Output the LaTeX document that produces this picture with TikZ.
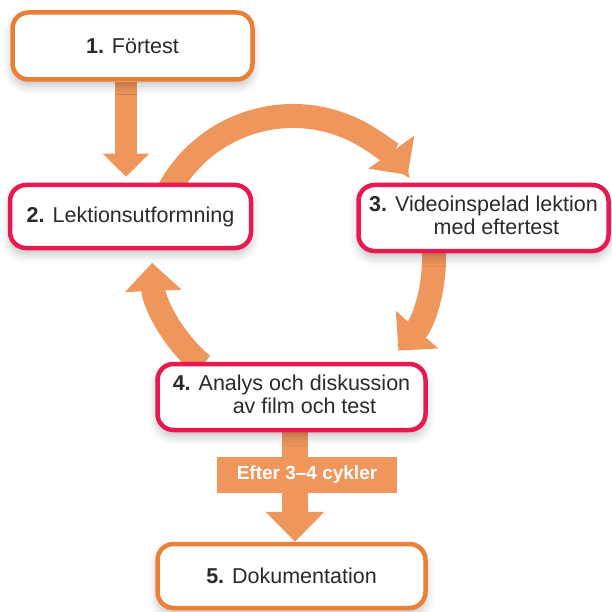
\documentclass[tikz,border=0pt]{standalone}
\usepackage{fontspec}
\setmainfont{Liberation Sans}
\usetikzlibrary{arrows.meta,shadows.blur,backgrounds}

\definecolor{boxorange}{HTML}{EA8038}
\definecolor{boxred}{HTML}{E81850}
\definecolor{arroworange}{HTML}{EE965C}
\definecolor{textgray}{HTML}{2A2A2A}

\tikzset{
    stepbox/.style={draw, line width=4.5pt, rounded corners=16pt, fill=white,
        text=textgray, align=center, inner sep=0pt,
        font=\fontsize{21.5}{23}\selectfont,
        blur shadow={shadow xshift=0pt, shadow yshift=-6pt,
            shadow blur radius=9pt, shadow opacity=25}},
    outerbox/.style={stepbox, draw=boxorange},
    cyclebox/.style={stepbox, draw=boxred},
    cyclearrow/.style={draw=arroworange, line width=24pt,
        -{Triangle[length=28pt,width=55pt]}},
    flowarrow/.style={draw=arroworange, line width=22pt,
        -{Triangle[length=23pt,width=45pt]}},
    cyclelabel/.style={fill=arroworange, text=white, inner sep=0pt,
        minimum width=180pt, minimum height=36pt,
        font=\fontsize{19}{21}\selectfont\bfseries}
}

\begin{document}
\begin{tikzpicture}[x=1pt, y=1pt]

        \useasboundingbox (0,0) rectangle (612,-612);

        % Centre of the cycle
        \coordinate (cyc) at (293,-257);

        % The five steps
        \node[outerbox, minimum width=240pt, minimum height=67pt] (n1) at (132.5,-46)
            {\textbf{1.} Förtest};
        \node[cyclebox, minimum width=241pt, minimum height=63pt] (n2) at (130.5,-216.5)
            {\textbf{2.} Lektionsutformning};
        \node[cyclebox, minimum width=250pt, minimum height=66pt] (n3) at (483.5,-218)
            {\textbf{3.} \begin{tabular}[t]{@{}c@{}}Videoinspelad lektion\\med eftertest\end{tabular}};
        \node[cyclebox, minimum width=268pt, minimum height=66pt] (n4) at (291.5,-397)
            {\textbf{4.} \begin{tabular}[t]{@{}c@{}}Analys och diskussion\\av film och test\end{tabular}};
        \node[outerbox, minimum width=268pt, minimum height=64pt] (n5) at (291.5,-576)
            {\textbf{5.} Dokumentation};

        \begin{scope}[on background layer]
            % The cycle arrows
            \draw[cyclearrow] ([shift={(152:141pt)}]cyc) arc[start angle=152, end angle=35.6, radius=141pt];
            \draw[cyclearrow] ([shift={(5:141pt)}]cyc) arc[start angle=5, end angle=-41.6, radius=141pt];
            \draw[cyclearrow] ([shift={(230:141pt)}]cyc) arc[start angle=230, end angle=182.4, radius=141pt];

            % Straight arrows
            \draw[flowarrow] ([xshift=-6.5pt]n1.south) -- ([xshift=-6.5pt,yshift=6pt]n1.south |- n2.north);
            \draw[flowarrow, line width=26pt, -{Triangle[length=30pt,width=57pt]}]
                ([xshift=3.5pt]n4.south) -- ([xshift=3.5pt]n5.north);
            \node[cyclelabel] (lbl) at (307,-475) {Efter 3--4 cykler};
        \end{scope}

\end{tikzpicture}
\end{document}
